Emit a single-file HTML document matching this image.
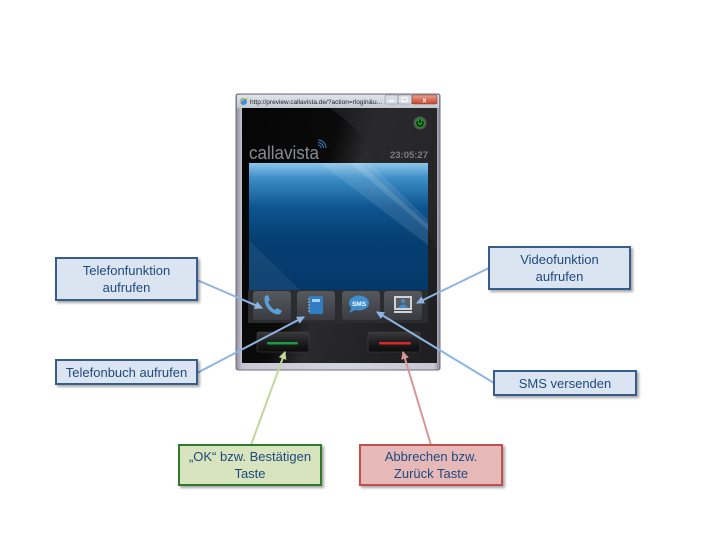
<!DOCTYPE html>
<html><head><meta charset="utf-8"><style>
html,body{margin:0;padding:0;background:#fff;}
svg{display:block;}
text{font-family:"Liberation Sans",sans-serif;}
</style></head><body>
<svg width="720" height="540" viewBox="0 0 720 540" xmlns="http://www.w3.org/2000/svg">
<defs>
<linearGradient id="frame" x1="0" y1="0" x2="1" y2="0">
<stop offset="0" stop-color="#8d8a9a"/><stop offset="0.03" stop-color="#c9c6d2"/><stop offset="0.5" stop-color="#d2d4dc"/><stop offset="0.97" stop-color="#c9c6d2"/><stop offset="1" stop-color="#8d8a9a"/>
</linearGradient>
<linearGradient id="title" x1="0" y1="0" x2="0" y2="1">
<stop offset="0" stop-color="#dfe3ea"/><stop offset="1" stop-color="#c3c8d2"/>
</linearGradient>
<linearGradient id="black" x1="0" y1="0" x2="1" y2="0.4">
<stop offset="0" stop-color="#050505"/><stop offset="0.45" stop-color="#0a0a0a"/><stop offset="0.6" stop-color="#2a2a2c"/><stop offset="1" stop-color="#202022"/>
</linearGradient>
<linearGradient id="screen" x1="0" y1="0" x2="0" y2="1">
<stop offset="0" stop-color="#8ec6ea"/><stop offset="0.12" stop-color="#3c8cc6"/><stop offset="0.35" stop-color="#0d5590"/><stop offset="0.6" stop-color="#063f72"/><stop offset="1" stop-color="#05386a"/>
</linearGradient>
<linearGradient id="btn" x1="0" y1="0" x2="0" y2="1">
<stop offset="0" stop-color="#55585e"/><stop offset="1" stop-color="#3a3c41"/>
</linearGradient>
<linearGradient id="hw" x1="0" y1="0" x2="0" y2="1">
<stop offset="0" stop-color="#3a3a3c"/><stop offset="0.5" stop-color="#1e1e20"/><stop offset="1" stop-color="#0c0c0c"/>
</linearGradient>
<linearGradient id="close" x1="0" y1="0" x2="0" y2="1">
<stop offset="0" stop-color="#e8a08c"/><stop offset="1" stop-color="#c8452c"/>
</linearGradient>
<filter id="sh" x="-10%" y="-10%" width="130%" height="140%">
<feDropShadow dx="2" dy="2" stdDeviation="1.2" flood-color="#000" flood-opacity="0.35"/>
</filter>
<marker id="ab" markerWidth="8" markerHeight="8" refX="7" refY="4" orient="auto" markerUnits="userSpaceOnUse">
<path d="M0,0 L8,4 L0,8 Z" fill="#8eb4e3"/>
</marker>
<marker id="ag" markerWidth="8" markerHeight="8" refX="7" refY="4" orient="auto" markerUnits="userSpaceOnUse">
<path d="M0,0 L8,4 L0,8 Z" fill="#c3d69b"/>
</marker>
<marker id="ar" markerWidth="8" markerHeight="8" refX="7" refY="4" orient="auto" markerUnits="userSpaceOnUse">
<path d="M0,0 L8,4 L0,8 Z" fill="#d99694"/>
</marker>
</defs>

<!-- Window frame -->
<rect x="236" y="94" width="204" height="276" rx="2" fill="url(#frame)" stroke="#6f6c7c" stroke-width="1"/>
<rect x="237" y="95" width="202" height="13" fill="url(#title)"/>
<!-- IE icon -->
<circle cx="243.5" cy="101.5" r="3.5" fill="#3a8ee0"/>
<path d="M240,103 Q243,97 248,99" stroke="#f0c040" stroke-width="1.2" fill="none"/>
<text x="250" y="104" font-size="6.5" fill="#222" textLength="132" lengthAdjust="spacingAndGlyphs">http://preview.callavista.de/?action=rlogin&amp;u...</text>
<!-- window buttons -->
<rect x="385" y="95" width="13" height="9" rx="1.5" fill="#d9dde5" stroke="#8a8e98" stroke-width="0.6"/>
<rect x="389" y="100" width="5" height="1.4" fill="#fff"/>
<rect x="398" y="95" width="14" height="9" rx="1.5" fill="#d9dde5" stroke="#8a8e98" stroke-width="0.6"/>
<rect x="402" y="97.5" width="5" height="4" fill="none" stroke="#fff" stroke-width="1"/>
<rect x="412" y="95" width="25" height="9" rx="1.5" fill="url(#close)" stroke="#8a3a2a" stroke-width="0.6"/>
<text x="424.5" y="102.5" font-size="7" fill="#fff" text-anchor="middle" font-weight="bold">x</text>

<!-- black content -->
<rect x="242" y="108" width="195" height="255" fill="url(#black)"/>
<path d="M330,108 L437,108 L437,250 Q390,150 330,108 Z" fill="#2a2a2d" opacity="0.6"/>
<!-- power button -->
<circle cx="420" cy="123" r="6.5" fill="#555"/>
<circle cx="420" cy="123" r="5" fill="#1e8f2a"/>
<path d="M417.6,121.3 A3,3 0 1 0 422.4,121.3" stroke="#111" stroke-width="1.3" fill="none"/>
<line x1="420" y1="119.5" x2="420" y2="123" stroke="#111" stroke-width="1.3"/>
<!-- logo -->
<text x="249" y="159" font-size="18" fill="#8a8c90" textLength="70" lengthAdjust="spacingAndGlyphs">callavista</text>
<path d="M318,145 a3,3 0 0 1 3,3 M318,142.5 a5.5,5.5 0 0 1 5.5,5.5 M318,140 a8,8 0 0 1 8,8" stroke="#3a7fc0" stroke-width="1" fill="none"/>
<text x="428" y="158" font-size="9.5" fill="#7b7d82" text-anchor="end" font-weight="bold">23:05:27</text>

<!-- screen -->
<rect x="249" y="163" width="179" height="127" fill="url(#screen)"/>
<path d="M320,163 L370,163 L428,220 L428,245 Z" fill="#ffffff" opacity="0.10"/>
<path d="M350,163 L360,163 L428,225 L428,230 Z" fill="#ffffff" opacity="0.12"/>
<path d="M249,240 L300,290 L249,290 Z" fill="#ffffff" opacity="0.06"/>

<!-- tray -->
<rect x="248" y="290" width="180" height="33" fill="#2a2c30"/>
<rect x="253" y="291" width="38" height="29" rx="3" fill="url(#btn)"/>
<rect x="297" y="291" width="38" height="29" rx="3" fill="url(#btn)"/>
<rect x="342" y="291" width="38" height="29" rx="3" fill="url(#btn)"/>
<rect x="384" y="291" width="38" height="29" rx="3" fill="url(#btn)"/>
<!-- phone icon -->
<path d="M265,296 L268,295 L270,300 L268,302 Q270,307 275,310 L277,308 L282,311 L280,314 Q275,316 268,309 Q263,302 265,296 Z" fill="#5aa0d8"/>
<!-- book icon -->
<rect x="309" y="296" width="14" height="18" rx="1.5" fill="#2f7dc2"/>
<rect x="312" y="299" width="8" height="3" fill="#a9d0ee"/>
<line x1="308" y1="299" x2="310" y2="299" stroke="#bbb"/><line x1="308" y1="302" x2="310" y2="302" stroke="#bbb"/><line x1="308" y1="305" x2="310" y2="305" stroke="#bbb"/><line x1="308" y1="308" x2="310" y2="308" stroke="#bbb"/><line x1="308" y1="311" x2="310" y2="311" stroke="#bbb"/>
<!-- sms icon -->
<ellipse cx="359" cy="303" rx="10" ry="7.5" fill="#3e8fcf"/>
<path d="M352,307 L349,313 L357,309 Z" fill="#3e8fcf"/>
<text x="359" y="306" font-size="6.5" fill="#fff" text-anchor="middle" font-weight="bold">SMS</text>
<!-- video icon -->
<rect x="394" y="296" width="18" height="14" fill="#cfd3d8"/>
<rect x="396" y="298" width="14" height="10" fill="#5a5e64"/>
<circle cx="403" cy="301" r="2" fill="#3e8fcf"/>
<path d="M398,308 Q403,301 408,308 Z" fill="#3e8fcf"/>
<rect x="394" y="311" width="18" height="2" fill="#cfd3d8"/>

<!-- hardware buttons -->
<rect x="257" y="332" width="52" height="20" rx="2" fill="url(#hw)" stroke="#444" stroke-width="0.6"/>
<rect x="267" y="342" width="31" height="2.5" rx="1.2" fill="#1d9a45"/>
<rect x="368" y="332" width="52" height="20" rx="2" fill="url(#hw)" stroke="#444" stroke-width="0.6"/>
<rect x="379" y="342" width="32" height="2.5" rx="1.2" fill="#d82a2a"/>

<!-- connectors -->
<line x1="197" y1="280" x2="262" y2="308" stroke="#8eb4e3" stroke-width="2" marker-end="url(#ab)"/>
<line x1="197" y1="373" x2="304" y2="317" stroke="#8eb4e3" stroke-width="2" marker-end="url(#ab)"/>
<line x1="489" y1="268" x2="417" y2="303" stroke="#8eb4e3" stroke-width="2" marker-end="url(#ab)"/>
<line x1="494" y1="383" x2="377" y2="312" stroke="#8eb4e3" stroke-width="2" marker-end="url(#ab)"/>
<line x1="251" y1="445" x2="285" y2="352" stroke="#c3d69b" stroke-width="2" marker-end="url(#ag)"/>
<line x1="431" y1="445" x2="403" y2="352" stroke="#d99694" stroke-width="2" marker-end="url(#ar)"/>

<!-- label boxes -->
<g font-size="13" fill="#1f497d" text-anchor="middle">
<rect x="56" y="258" width="141" height="42" fill="#dbe5f1" stroke="#385d8a" stroke-width="2" filter="url(#sh)"/>
<text x="126.5" y="275">Telefonfunktion</text>
<text x="126.5" y="292">aufrufen</text>
<rect x="56" y="360" width="141" height="24" fill="#dbe5f1" stroke="#385d8a" stroke-width="2" filter="url(#sh)"/>
<text x="126.5" y="377">Telefonbuch aufrufen</text>
<rect x="489" y="247" width="141" height="42" fill="#dbe5f1" stroke="#385d8a" stroke-width="2" filter="url(#sh)"/>
<text x="559.5" y="264">Videofunktion</text>
<text x="559.5" y="281">aufrufen</text>
<rect x="494" y="371" width="142" height="24" fill="#dbe5f1" stroke="#385d8a" stroke-width="2" filter="url(#sh)"/>
<text x="565" y="388">SMS versenden</text>
<rect x="179" y="445" width="142" height="40" fill="#d7e4bd" stroke="#2e7a2e" stroke-width="2" filter="url(#sh)"/>
<text x="250" y="461">„OK“ bzw. Bestätigen</text>
<text x="250" y="478">Taste</text>
<rect x="360" y="445" width="142" height="40" fill="#e6b9b8" stroke="#c0504d" stroke-width="2" filter="url(#sh)"/>
<text x="431" y="461">Abbrechen bzw.</text>
<text x="431" y="478">Zurück  Taste</text>
</g>
</svg>
</body></html>
